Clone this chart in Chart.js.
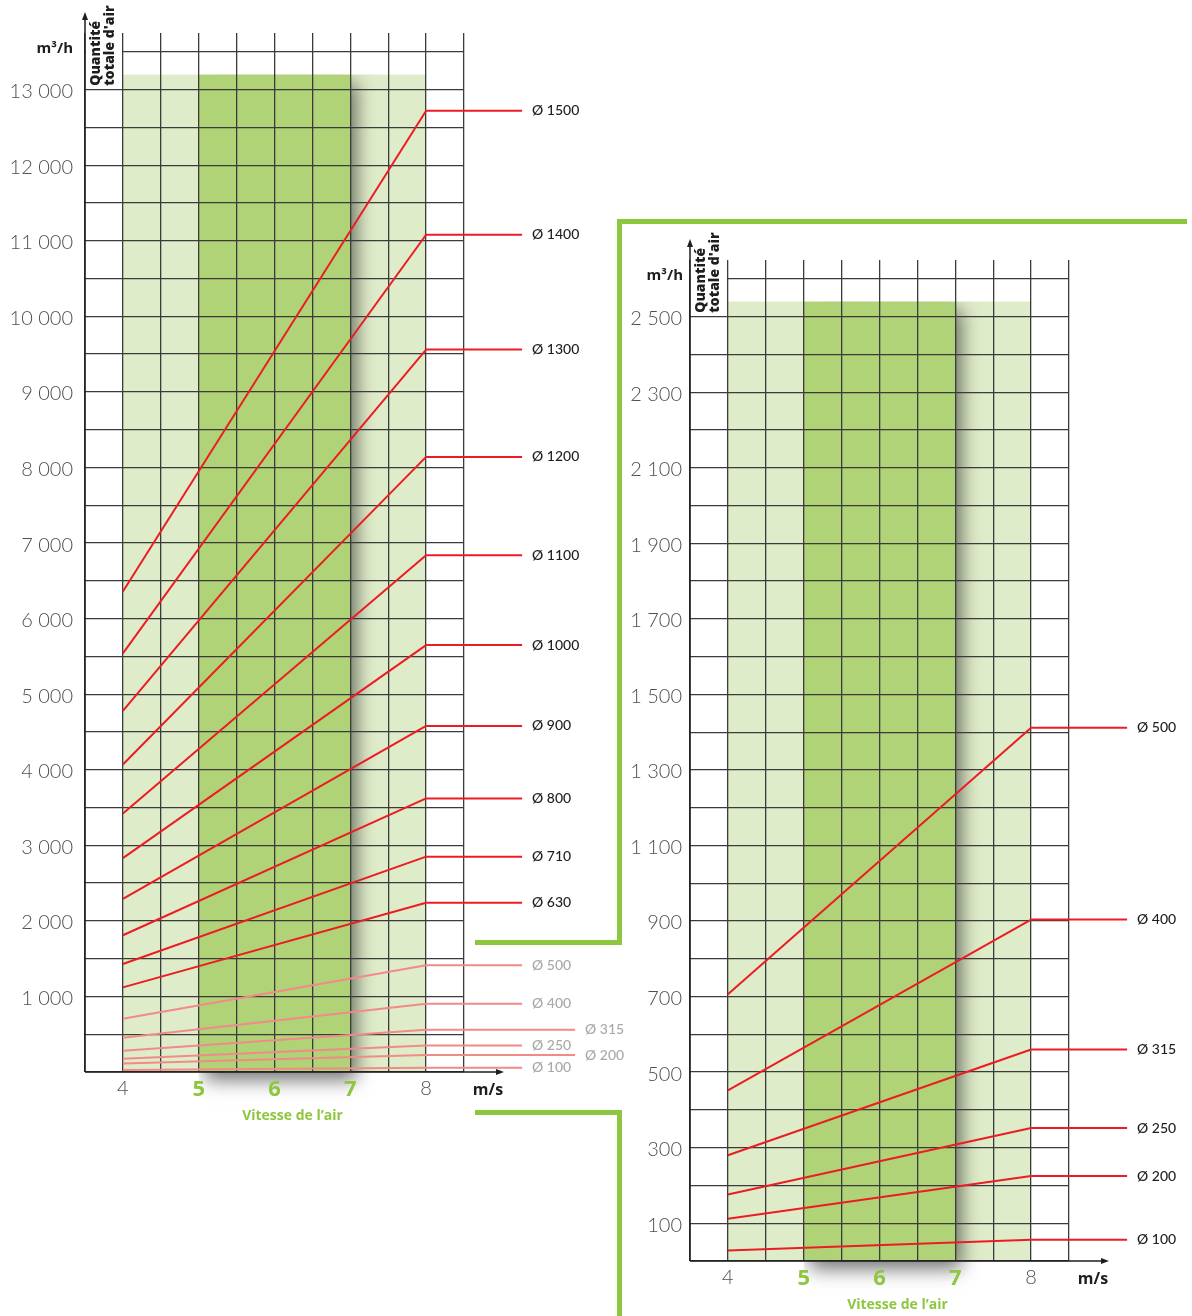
<!DOCTYPE html>
<html lang="fr">
<head>
<meta charset="utf-8">
<title>Quantité totale d'air selon la vitesse de l'air</title>
<script src="https://cdn.jsdelivr.net/npm/chart.js@4/dist/chart.umd.min.js"></script>
<style>
  html, body { margin: 0; padding: 0; background: #fff; }
  body { width: 1192px; height: 1316px; position: relative; overflow: hidden; }
  canvas { position: absolute; }
  #ductsLarge { left: 0; top: 0; }
  #ductsSmall { left: 620px; top: 220px; }
  .frame { position: absolute; background: #8dc63f; }
</style>
</head>
<body>
<canvas id="ductsLarge" width="640" height="1135"></canvas>
<canvas id="ductsSmall" width="572" height="1096"></canvas>

<!-- green bracket linking the zoomed small-duct chart -->
<div class="frame" style="left:617px;top:219px;width:570px;height:5px"></div>
<div class="frame" style="left:617px;top:219px;width:5px;height:726px"></div>
<div class="frame" style="left:475px;top:940px;width:147px;height:5px"></div>
<div class="frame" style="left:475px;top:1110px;width:147px;height:5px"></div>
<div class="frame" style="left:617px;top:1110px;width:5px;height:206px"></div>

<script>
// ---- data -------------------------------------------------------------
// air speed (m/s) at both ends of each duct line
const speeds = [4, 8];
// duct diameters (mm)
const diameters = [1500, 1400, 1300, 1200, 1100, 1000, 900, 800, 710, 630, 500, 400, 315, 250, 200, 100];
// total air flow (m³/h) at 4 m/s and at 8 m/s
const flowAt4 = [6360, 5540, 4780, 4070, 3420, 2830, 2290, 1810, 1430, 1120, 706, 452, 280, 176, 112, 28];
const flowAt8 = [12720, 11080, 9560, 8140, 6840, 5650, 4580, 3620, 2850, 2240, 1412, 904, 560, 352, 225, 56];
// small ducts repeated on the detailed chart
const smallDiameters = [500, 400, 315, 250, 200, 100];

// axis ticks
const speedGrid = [3.5, 4, 4.5, 5, 5.5, 6, 6.5, 7, 7.5, 8, 8.5];
const speedLabels = [4, 5, 6, 7, 8];
const comfortSpeeds = [5, 7];   // recommended range (dark band)
const usableSpeeds = [4, 8];    // usable range (light band)
const largeFlowLabels = [1000, 2000, 3000, 4000, 5000, 6000, 7000, 8000, 9000, 10000, 11000, 12000, 13000];
const smallFlowLabels = [100, 300, 500, 700, 900, 1100, 1300, 1500, 1700, 1900, 2100, 2300, 2500];

// ---- style ------------------------------------------------------------
const ink = '#1e1e1e';
const gridInk = '#3b3b3b';
const tickInk = '#505050';
const leafGreen = '#8dc63f';
const lightGreen = '#dfecc9';
const darkGreen = '#b0d377';
const red = '#ec1c24';
const pink = '#f28a8a';
const mutedText = '#a9a9a9';
const FONT = 'Lato, "Open Sans", "DejaVu Sans", sans-serif';
const TITLE_FONT = '"Open Sans", Lato, "DejaVu Sans", sans-serif';

function spaced(v) {
  const s = String(v);
  return s.length > 3 ? s.slice(0, -3) + ' ' + s.slice(-3) : s;
}

function gridValues(step, top) {
  const out = [];
  for (let v = 0; v <= top + 1e-9; v += step) out.push(v);
  return out;
}

function drawArrowHead(ctx, x, y, dir) {
  ctx.beginPath();
  if (dir === 'up') {
    ctx.moveTo(x, y); ctx.lineTo(x - 3, y + 8); ctx.lineTo(x + 3, y + 8);
  } else {
    ctx.moveTo(x, y); ctx.lineTo(x - 8, y - 3); ctx.lineTo(x - 8, y + 3);
  }
  ctx.closePath();
  ctx.fill();
}

function decorPlugin(spec) {
  return {
    id: 'ductDecor',
    beforeDraw(chart) {
      const { ctx, scales: { x, y } } = chart;
      const top = y.getPixelForValue(spec.bandTop);
      const bottom = y.getPixelForValue(0);
      const lx0 = x.getPixelForValue(usableSpeeds[0]);
      const lx1 = x.getPixelForValue(usableSpeeds[1]);
      const dx0 = x.getPixelForValue(comfortSpeeds[0]);
      const dx1 = x.getPixelForValue(comfortSpeeds[1]);
      ctx.save();
      ctx.fillStyle = lightGreen;
      ctx.fillRect(lx0, top, lx1 - lx0, bottom - top);
      // recommended band, casting its shadow to the right and below
      ctx.beginPath();
      ctx.rect(dx0, top, chart.width - dx0, chart.height - top);
      ctx.clip();
      ctx.shadowColor = 'rgba(0,0,0,0.55)';
      ctx.shadowBlur = 18;
      ctx.shadowOffsetX = 6;
      ctx.shadowOffsetY = 8;
      ctx.fillStyle = darkGreen;
      ctx.fillRect(dx0, top, dx1 - dx0, bottom - top);
      ctx.restore();
    },
    beforeDatasetsDraw(chart) {
      const { ctx, chartArea: a, scales: { x, y } } = chart;
      const x0 = x.getPixelForValue(x.min);
      const x1 = x.getPixelForValue(usableSpeeds[0]);
      const yTop = y.getPixelForValue(spec.yLabels[spec.yLabels.length - 1]);
      ctx.save();
      // empty corner cell that holds the vertical axis title
      ctx.fillStyle = '#fff';
      ctx.fillRect(x0 + 1, 0, x1 - x0 - 2, yTop - 1);
      ctx.translate(a.left, yTop - 4);
      ctx.rotate(-Math.PI / 2);
      ctx.fillStyle = ink;
      ctx.font = '800 14px ' + TITLE_FONT;
      ctx.textAlign = 'left';
      ctx.textBaseline = 'middle';
      ctx.fillText('Quantité', 0, 11);
      ctx.fillText("totale d'air", 0, 25);
      ctx.restore();
    },
    afterDatasetsDraw(chart) {
      const { ctx, scales: { x, y } } = chart;
      const xEnd = x.getPixelForValue(speeds[speeds.length - 1]);
      ctx.save();
      ctx.lineWidth = 2;
      ctx.textAlign = 'left';
      ctx.textBaseline = 'middle';
      ctx.font = '500 14px ' + FONT;
      chart.data.datasets.forEach(ds => {
        const py = y.getPixelForValue(ds.data[ds.data.length - 1].y);
        const len = spec.leaderLength(ds.diameter);
        ctx.strokeStyle = ds.borderColor;
        ctx.beginPath();
        ctx.moveTo(xEnd, py);
        ctx.lineTo(xEnd + len, py);
        ctx.stroke();
        ctx.fillStyle = spec.labelColor(ds.diameter);
        ctx.fillText(ds.label, xEnd + len + 10, py);
      });
      ctx.restore();
    },
    afterDraw(chart) {
      const { ctx, chartArea: a, scales: { x, y } } = chart;
      const ax = x.getPixelForValue(x.min);
      const ay = y.getPixelForValue(0);
      const yTip = a.top - 21;
      const xTip = a.right + 40;
      ctx.save();
      ctx.strokeStyle = ink;
      ctx.fillStyle = ink;
      ctx.lineWidth = 1.5;
      ctx.beginPath();
      ctx.moveTo(ax, ay); ctx.lineTo(ax, yTip + 4);
      ctx.moveTo(ax, ay); ctx.lineTo(xTip - 4, ay);
      ctx.stroke();
      drawArrowHead(ctx, ax, yTip, 'up');
      drawArrowHead(ctx, xTip, ay, 'right');

      const yTop = y.getPixelForValue(spec.yLabels[spec.yLabels.length - 1]);
      ctx.font = 'bold 15px ' + TITLE_FONT;
      ctx.textAlign = 'right';
      ctx.textBaseline = 'middle';
      ctx.fillText('m³/h', a.left - spec.unitGap, yTop - 41);

      ctx.font = 'bold 16px ' + TITLE_FONT;
      ctx.textAlign = 'center';
      ctx.fillText('m/s', xTip - 16, ay + 18);

      const mid = (comfortSpeeds[0] + comfortSpeeds[1]) / 2;
      ctx.fillStyle = leafGreen;
      ctx.font = 'bold 14px ' + TITLE_FONT;
      ctx.fillText('Vitesse de l’air', x.getPixelForValue(mid) + 18, ay + 44);
      ctx.restore();
    }
  };
}

function flowChart(canvasId, spec) {
  const datasets = spec.diameters.map(d => {
    const i = diameters.indexOf(d);
    const flows = [flowAt4[i], flowAt8[i]];
    return {
      label: 'Ø ' + d,
      diameter: d,
      data: speeds.map((s, k) => ({ x: s, y: flows[k] })),
      borderColor: spec.lineColor(d),
      borderWidth: 2,
      pointRadius: 0,
      tension: 0,
      clip: false
    };
  });

  return new Chart(document.getElementById(canvasId), {
    type: 'line',
    data: { datasets },
    plugins: [decorPlugin(spec)],
    options: {
      responsive: false,
      animation: false,
      devicePixelRatio: 1,
      events: [],
      layout: { padding: spec.padding },
      plugins: { legend: { display: false }, tooltip: { enabled: false } },
      scales: {
        x: {
          type: 'linear',
          min: speedGrid[0],
          max: speedGrid[speedGrid.length - 1],
          afterBuildTicks: s => { s.ticks = speedGrid.map(v => ({ value: v })); },
          afterFit: s => { s.height = 40; },
          grid: { color: gridInk, lineWidth: 1.3, drawTicks: false },
          border: { display: false },
          ticks: {
            autoSkip: false,
            maxRotation: 0,
            padding: 5,
            callback: v => speedLabels.includes(v) ? String(v) : '',
            color: c => (c.tick && c.tick.value >= comfortSpeeds[0] && c.tick.value <= comfortSpeeds[1]) ? leafGreen : tickInk,
            font: c => (c.tick && c.tick.value >= comfortSpeeds[0] && c.tick.value <= comfortSpeeds[1])
              ? { family: TITLE_FONT, size: 22, weight: 'bold' }
              : { family: FONT, size: 20, weight: '300' }
          }
        },
        y: {
          type: 'linear',
          min: 0,
          max: spec.yMax,
          afterBuildTicks: s => { s.ticks = gridValues(spec.gridStep, spec.gridTop).map(v => ({ value: v })); },
          afterFit: s => { s.width = spec.yAxisWidth; },
          grid: { color: gridInk, lineWidth: 1.3, drawTicks: false },
          border: { display: false },
          ticks: {
            autoSkip: false,
            padding: spec.yTickPad,
            labelOffset: 2,
            callback: v => spec.yLabels.includes(v) ? spaced(v) : '',
            color: tickInk,
            font: { family: FONT, size: 20, weight: '300' }
          }
        }
      }
    }
  });
}

// all duct sizes
flowChart('ductsLarge', {
  diameters: diameters,
  yLabels: largeFlowLabels,
  gridStep: 500,
  gridTop: 13500,
  yMax: 13750,
  bandTop: 13200,
  yAxisWidth: 85,
  yTickPad: 12,
  unitGap: 12,
  padding: { top: 33, right: 176, bottom: 23, left: 0 },
  lineColor: d => smallDiameters.includes(d) ? pink : red,
  labelColor: d => smallDiameters.includes(d) ? mutedText : ink,
  leaderLength: d => (d === 315 || d === 200) ? 149 : 96
});

// detail of the small duct sizes
flowChart('ductsSmall', {
  diameters: smallDiameters,
  yLabels: smallFlowLabels,
  gridStep: 100,
  gridTop: 2600,
  yMax: 2650,
  bandTop: 2540,
  yAxisWidth: 70,
  yTickPad: 8,
  unitGap: 7,
  padding: { top: 40, right: 123, bottom: 15, left: 0 },
  lineColor: () => red,
  labelColor: () => ink,
  leaderLength: () => 96
});
</script>
</body>
</html>
